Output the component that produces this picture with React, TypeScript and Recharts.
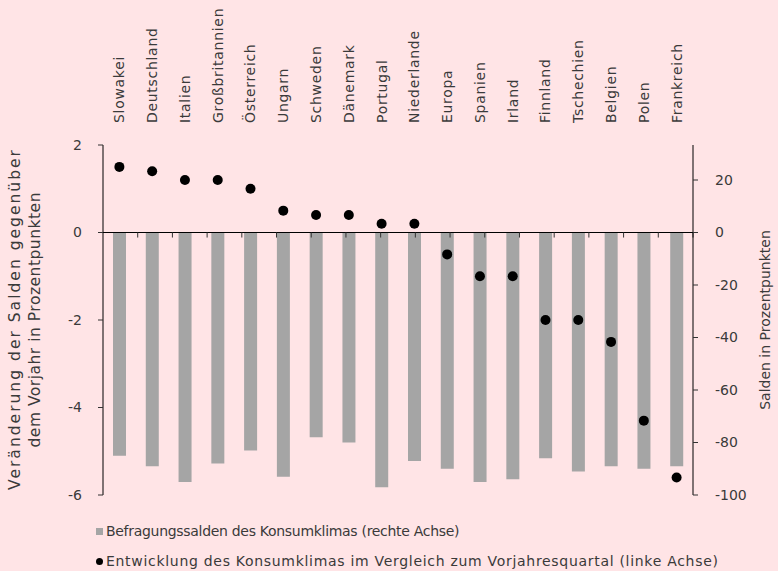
import React from 'react';
import {
  ComposedChart,
  Bar,
  Scatter,
  XAxis,
  YAxis,
  ReferenceLine,
  Legend,
} from 'recharts';

const categories = [
  'Slowakei', 'Deutschland', 'Italien', 'Großbritannien', 'Österreich', 'Ungarn',
  'Schweden', 'Dänemark', 'Portugal', 'Niederlande', 'Europa', 'Spanien',
  'Irland', 'Finnland', 'Tschechien', 'Belgien', 'Polen', 'Frankreich',
];
const balances = [-85, -89, -95, -88, -83, -93, -78, -80, -97, -87, -90, -95, -94, -86, -91, -89, -90, -89];
const changes = [1.5, 1.4, 1.2, 1.2, 1.0, 0.5, 0.4, 0.4, 0.2, 0.2, -0.5, -1.0, -1.0, -2.0, -2.0, -2.5, -4.3, -5.6];
const leftTicks = [-6, -4, -2, 0, 2];
const rightTicks = [-100, -80, -60, -40, -20, 0, 20];
const boundaryIdx = categories.slice(1).map((_, i) => i + 1);

const data = categories.map((name, i) => ({ name, balance: balances[i], change: changes[i] }));

const FONT = 'DejaVu Sans, sans-serif';
const TXT = '#3a3a3a';
const BG = '#ffe4e6';

const CatTick = (props: any) => {
  const { x, y, payload } = props;
  return (
    <text
      x={x}
      y={y}
      transform={`rotate(-90, ${x}, ${y})`}
      textAnchor="start"
      dy="0.35em"
      fontSize={14}
      fontFamily={FONT}
      fill={TXT}
      letterSpacing={0.7}
    >
      {payload.value}
    </text>
  );
};

const LeftLabel = (props: any) => {
  const vb = props.viewBox || {};
  const cy = vb.y + vb.height / 2;
  const x1 = vb.x + 15;
  const x2 = vb.x + 35;
  return (
    <g>
      <text x={x1} y={cy} transform={`rotate(-90, ${x1}, ${cy})`} textAnchor="middle" dy="0.35em" fontSize={15.5} fontFamily={FONT} fill={TXT} textLength={340} lengthAdjust="spacing">
        Veränderung der Salden gegenüber
      </text>
      <text x={x2} y={cy} transform={`rotate(-90, ${x2}, ${cy})`} textAnchor="middle" dy="0.35em" fontSize={15.5} fontFamily={FONT} fill={TXT} textLength={255} lengthAdjust="spacing">
        dem Vorjahr in Prozentpunkten
      </text>
    </g>
  );
};

const RightLabel = (props: any) => {
  const vb = props.viewBox || {};
  const cy = vb.y + vb.height / 2;
  const x = vb.x + 72;
  return (
    <text x={x} y={cy} transform={`rotate(-90, ${x}, ${cy})`} textAnchor="middle" dy="0.35em" fontSize={14} fontFamily={FONT} fill={TXT}>
      Salden in Prozentpunkten
    </text>
  );
};

const Dot = (props: any) => <circle cx={props.cx} cy={props.cy} r={5} fill="#000" />;

const LegendContent = () => (
  <div style={{ paddingTop: 21, paddingLeft: 96, fontFamily: FONT, fontSize: 14, color: TXT }}>
    <div style={{ height: 30, display: 'flex', alignItems: 'center' }}>
      <span style={{ display: 'inline-block', width: 7, height: 7, background: '#a5a5a5', marginRight: 3 }} />
      <span style={{ letterSpacing: -0.3 }}>Befragungssalden des Konsumklimas (rechte Achse)</span>
    </div>
    <div style={{ height: 30, display: 'flex', alignItems: 'center' }}>
      <span style={{ display: 'inline-block', width: 7, height: 7, borderRadius: '50%', background: '#000', marginRight: 3 }} />
      <span style={{ letterSpacing: 0.7 }}>Entwicklung des Konsumklimas im Vergleich zum Vorjahresquartal (linke Achse)</span>
    </div>
  </div>
);

export default function App() {
  return (
    <div style={{ position: 'absolute', left: 0, top: 0, width: 778, height: 571, background: BG }}>
      <ComposedChart width={778} height={571} data={data} margin={{ top: 0, right: 0, bottom: 0, left: 0 }}>
        <XAxis
          xAxisId="cat"
          dataKey="name"
          orientation="top"
          axisLine={false}
          tickLine={false}
          tickSize={0}
          tickMargin={22}
          height={145}
          interval={0}
          tick={<CatTick />}
        />
        <XAxis xAxisId="num" type="number" domain={[0, 18]} hide allowDataOverflow />
        <YAxis
          yAxisId="left"
          domain={[-6, 2]}
          ticks={leftTicks}
          allowDataOverflow
          width={103}
          tickSize={5}
          tickMargin={16}
          axisLine={{ stroke: '#000' }}
          tickLine={{ stroke: '#333' }}
          tick={{ fontSize: 14, fontFamily: FONT, fill: TXT }}
          label={<LeftLabel />}
        />
        <YAxis
          yAxisId="right"
          orientation="right"
          domain={[-100, 100 / 3]}
          ticks={rightTicks}
          allowDataOverflow
          width={85}
          tickSize={5}
          tickMargin={17}
          axisLine={{ stroke: '#000' }}
          tickLine={{ stroke: '#333' }}
          tick={{ fontSize: 14, fontFamily: FONT, fill: TXT }}
          label={<RightLabel />}
        />
        <Legend verticalAlign="bottom" align="left" height={76} content={<LegendContent />} />
        <Bar
          xAxisId="cat"
          yAxisId="right"
          dataKey="balance"
          barSize={13}
          fill="#a5a5a5"
          isAnimationActive={false}
        />
        <ReferenceLine xAxisId="num" yAxisId="left" y={0} stroke="#000" strokeWidth={1.2} />
        {boundaryIdx.map((k) => (
          <ReferenceLine
            key={k}
            xAxisId="num"
            yAxisId="left"
            segment={[{ x: k, y: 0 }, { x: k, y: -0.115 }]}
            stroke="#333"
          />
        ))}
        <Scatter
          xAxisId="cat"
          yAxisId="left"
          dataKey="change"
          shape={<Dot />}
          isAnimationActive={false}
        />
      </ComposedChart>
    </div>
  );
}
